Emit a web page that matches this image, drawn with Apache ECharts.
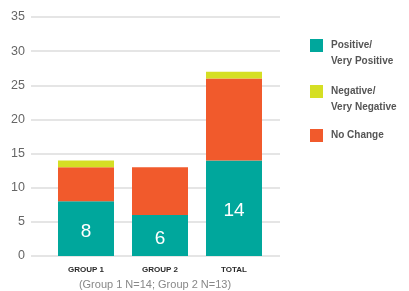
<!DOCTYPE html>
<html lang="en">
  <head>
    <meta charset="UTF-8" />
    <title>Change by group</title>
  </head>
  <body style="margin: 0">
    <div id="main" style="width: 409px; height: 291px"></div>
    <script src="https://cdn.jsdelivr.net/npm/echarts@6.0.0/dist/echarts.min.js"></script>
    <script>
      const categories = ["GROUP 1", "GROUP 2", "TOTAL"];
      const positive = [8, 6, 14];
      const noChange = [5, 7, 12];
      const negative = [1, 0, 1];
      const yTicks = [0, 35, 5]; // min, max, step

      const teal = "#00a79c";
      const orange = "#f15a2c";
      const lime = "#d5df24";

      var myChart = echarts.init(document.getElementById("main"));

      // one legend per entry so each can sit where the original put it
      function legendAt(name, top, twoLines) {
        return {
          orient: "vertical",
          left: 310,
          top: top,
          padding: 0,
          itemWidth: 13,
          itemHeight: 13,
          icon: "rect",
          data: [name],
          // blank first line keeps the icon level with the first text line
          formatter: (n) => (twoLines ? "\n" + n : n),
          textStyle: {
            fontSize: 10,
            fontWeight: "bold",
            color: "#555",
            lineHeight: 16,
            padding: [0, 0, 0, 3],
            fontFamily: "Liberation Sans",
          },
        };
      }

      myChart.setOption({
        animation: false,
        title: {
          text: "(Group 1 N=14; Group 2 N=13)",
          left: 155,
          top: 279,
          padding: 0,
          textAlign: "center",
          textStyle: { fontSize: 11, fontWeight: "normal", color: "#888", fontFamily: "Liberation Sans" },
        },
        legend: [
          legendAt("Positive/\nVery Positive", 21.5, true),
          legendAt("Negative/\nVery Negative", 67.5, true),
          legendAt("No Change", 127.5, false),
        ],
        grid: [
          { left: 49, right: 138, top: 17, bottom: 35 },
          { left: 31, right: 129, top: 17, bottom: 35 },
        ],
        xAxis: [
          {
            type: "category",
            gridIndex: 0,
            data: categories,
            axisLine: { show: false },
            axisTick: { show: false },
            axisLabel: { margin: 10, fontSize: 8, fontWeight: "bold", color: "#2a2a2a", fontFamily: "Liberation Sans" },
          },
          { type: "value", gridIndex: 1, show: false },
        ],
        yAxis: [
          { type: "value", gridIndex: 0, min: yTicks[0], max: yTicks[1], interval: yTicks[2], show: false },
          {
            type: "value",
            gridIndex: 1,
            min: yTicks[0],
            max: yTicks[1],
            interval: yTicks[2],
            axisLine: { show: false },
            axisTick: { show: false },
            axisLabel: { margin: 6, fontSize: 12.5, color: "#666", fontFamily: "Liberation Sans" },
            splitLine: { lineStyle: { color: "#dcdcdc", width: 1.5 } },
          },
        ],
        series: [
          {
            name: "Positive/\nVery Positive",
            type: "bar",
            stack: "a",
            barWidth: 56,
            data: positive,
            itemStyle: { color: teal },
            label: {
              show: true,
              position: "inside",
              offset: [0, 3],
              color: "#fff",
              fontSize: 19,
              fontFamily: "Liberation Sans",
            },
          },
          {
            name: "No Change",
            type: "bar",
            stack: "a",
            barWidth: 56,
            data: noChange,
            itemStyle: { color: orange },
          },
          {
            name: "Negative/\nVery Negative",
            type: "bar",
            stack: "a",
            barWidth: 56,
            data: negative,
            itemStyle: { color: lime },
          },
        ],
      });
    </script>
  </body>
</html>
